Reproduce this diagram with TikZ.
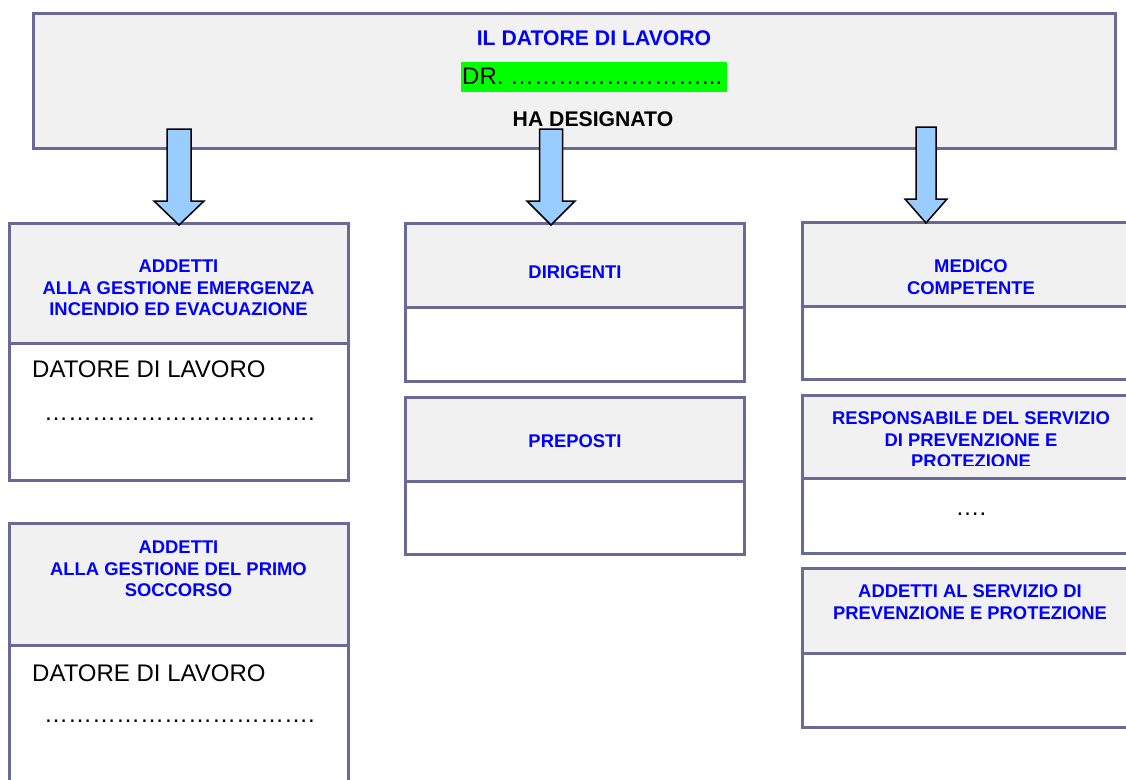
\documentclass[tikz,border=0pt]{standalone}
\usepackage{fontspec}
\setmainfont{Liberation Sans}
\usetikzlibrary{calc}
\definecolor{frame}{RGB}{106,106,153}
\definecolor{hdfill}{RGB}{241,241,241}
\definecolor{hdblue}{RGB}{0,0,255}
\definecolor{arrfill}{RGB}{153,204,255}
\definecolor{namegreen}{RGB}{0,255,0}
\tikzset{
  panel/.style={draw=frame, line width=3pt, inner sep=0pt, outer sep=0pt, anchor=north west},
  hdbox/.style={panel, fill=hdfill},
  bdbox/.style={panel, fill=white},
  hdtext/.style={text=hdblue, font=\fontsize{18.4}{21.5}\selectfont\bfseries, align=center, inner sep=0pt},
  toptext/.style={font=\fontsize{21.2}{24}\selectfont\bfseries, inner sep=0pt},
  bodytext/.style={font=\fontsize{24}{28}\selectfont, inner sep=0pt},
  barrowsty/.style={draw=black, line width=1.5pt, fill=arrfill, line join=miter},
}
\newcommand\blockarr[5]{%
  \draw[barrowsty] let \p1=(#1), \p2=(#2) in
    (\x1-#3pt,\y1) -- (\x1+#3pt,\y1) -- (\x1+#3pt,\y2+#5pt) -- (\x1+#4pt,\y2+#5pt)
    -- (\x2,\y2) -- (\x1-#4pt,\y2+#5pt) -- (\x1-#3pt,\y2+#5pt) -- cycle;}
\begin{document}
\begin{tikzpicture}[x=1pt,y=-1pt]
\useasboundingbox (0,0) rectangle (1126,779);
\clip (0,0) rectangle (1126,779);
\fill[white] (0,0) rectangle (1126,779);

% top box
\node[hdbox, minimum width=1082pt, minimum height=135pt] (top) at (33,13) {};
\node[toptext, text=hdblue] (t1) at (594,38) {IL DATORE DI LAVORO};
\node[fill=namegreen, minimum width=266pt, minimum height=30pt, inner sep=0pt] (g) at (594,77) {};
\node[bodytext, anchor=west] (gt) at (462,76) {DR. ……………………...};
\node[toptext] (t3) at (593,119) {HA DESIGNATO};

% left column
\node[hdbox, minimum width=339pt, minimum height=120pt] (h1) at (9,223) {};
\node[bdbox, minimum width=339pt, minimum height=137pt] (b1) at (9,343) {};
\node[hdtext] (h1t) at (178.5,288) {ADDETTI\\ALLA GESTIONE EMERGENZA\\INCENDIO ED EVACUAZIONE};
\node[bodytext, anchor=west] (b1t) at (32,369) {DATORE DI LAVORO};
\node[bodytext, anchor=base west] (b1d) at (44,420) {…………………………….};

\node[hdbox, minimum width=339pt, minimum height=122pt] (h2) at (9,523) {};
\node[bdbox, minimum width=339pt, minimum height=180pt] (b2) at (9,645) {};
\node[hdtext] (h2t) at (178.5,569) {ADDETTI\\ALLA GESTIONE DEL PRIMO\\SOCCORSO};
\node[bodytext, anchor=west] (b2t) at (32,673) {DATORE DI LAVORO};
\node[bodytext, anchor=base west] (b2d) at (44,722) {…………………………….};

% middle column
\node[hdbox, minimum width=339pt, minimum height=84pt] (h3) at (405,223) {};
\node[bdbox, minimum width=339pt, minimum height=74pt] (b3) at (405,307) {};
\node[hdtext] (h3t) at (575,272) {DIRIGENTI};
\node[hdbox, minimum width=339pt, minimum height=84pt] (h4) at (405,397) {};
\node[bdbox, minimum width=339pt, minimum height=73pt] (b4) at (405,481) {};
\node[hdtext] (h4t) at (575,441) {PREPOSTI};

% right column
\node[hdbox, minimum width=338pt, minimum height=84pt] (h5) at (802,222) {};
\node[bdbox, minimum width=338pt, minimum height=73pt] (b5) at (802,306) {};
\node[hdtext] (h5t) at (971,277) {MEDICO\\COMPETENTE};

\node[hdbox, minimum width=338pt, minimum height=83pt] (h6) at (802,395) {};
\begin{scope}
\clip (802,395) rectangle (1126,465.5);
\node[hdtext] (h6t) at (971,440) {RESPONSABILE DEL SERVIZIO\\DI PREVENZIONE E\\PROTEZIONE};
\end{scope}
\node[bdbox, minimum width=338pt, minimum height=75pt] (b6) at (802,478) {};
\node[bodytext, anchor=base] (b6d) at (971,515) {….};

\node[hdbox, minimum width=338pt, minimum height=85pt] (h7) at (802,568) {};
\node[bdbox, minimum width=338pt, minimum height=74pt] (b7) at (802,653) {};
\node[hdtext] (h7t) at (970,602) {ADDETTI AL SERVIZIO DI\\PREVENZIONE E PROTEZIONE};

% arrows
\coordinate (a1s) at (179,129);
\coordinate (a1e) at (179,225);
\coordinate (a2s) at (551,129);
\coordinate (a2e) at (551,225);
\coordinate (a3s) at (926,127);
\coordinate (a3e) at (926,223);
\blockarr{a1s}{a1e}{12}{25}{24}
\blockarr{a2s}{a2e}{11.5}{24}{24}
\blockarr{a3s}{a3e}{10}{21}{24}
\end{tikzpicture}
\end{document}
